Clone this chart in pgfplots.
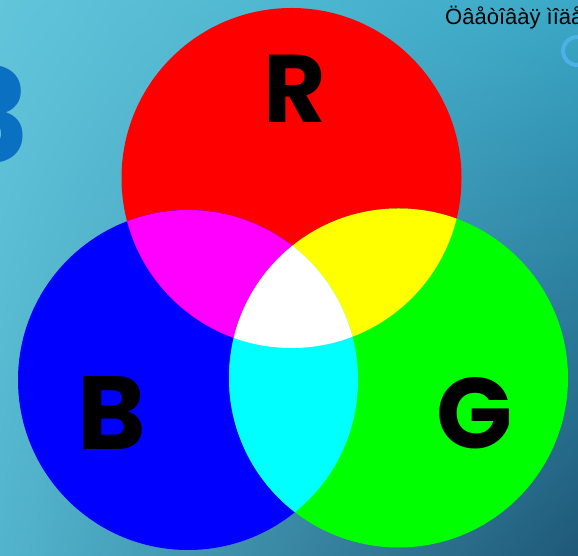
\documentclass[border=0pt]{standalone}
\usepackage{pgfplots}
\pgfplotsset{compat=1.18}
\usetikzlibrary{shadings}
\usepackage{fontspec}
\setmainfont{Liberation Sans}
\newfontfamily\letterfont{Poppins}
\definecolor{bgUL}{HTML}{62C5DA}
\definecolor{bgUR}{HTML}{3AA8C7}
\definecolor{bgLL}{HTML}{52B5CD}
\definecolor{bgLR}{HTML}{1F5878}
\definecolor{threeblue}{HTML}{0A71C2}
\definecolor{ringblue}{HTML}{4FB0E8}
\definecolor{pR}{HTML}{FF0000}
\definecolor{pG}{HTML}{00FF00}
\definecolor{pB}{HTML}{0000FF}
\definecolor{pM}{HTML}{FF00FF}
\definecolor{pY}{HTML}{FFFF00}
\definecolor{pC}{HTML}{00FFFF}
\begin{document}
\begin{tikzpicture}
\begin{axis}[
  name=ax,
  at={(0pt,0pt)}, anchor=south west,
  scale only axis, width=578pt, height=556pt,
  xmin=0, xmax=578, ymin=0, ymax=556,
  axis lines=none, clip=true,
]
% background
\path[upper left=bgUL, upper right=bgUR, lower left=bgLL, lower right=bgLR]
  (axis cs:0,0) rectangle (axis cs:578,556);
% big partial "3"
\node[anchor=east, inner sep=0pt, text=threeblue, font=\letterfont\bfseries\fontsize{130}{130}\selectfont]
  at (axis cs:30,442) {3};
% ring top right
\draw[ringblue, line width=4pt] (axis cs:577,505) circle [radius=14];
% title text
\node[anchor=base west, inner sep=0pt, font=\fontsize{22}{22}\selectfont]
  at (axis cs:445,531) {Öâåòîâàÿ ìîäåëü RGB};
% primary circles
\fill[pR] (axis cs:291.5,378) circle [radius=170];
\fill[pB] (axis cs:188,176) circle [radius=170];
\fill[pG] (axis cs:398.5,178) circle [radius=169.5];
% pairwise overlaps
\begin{scope}
  \clip (axis cs:291.5,378) circle [radius=170];
  \fill[pM] (axis cs:188,176) circle [radius=170];
\end{scope}
\begin{scope}
  \clip (axis cs:291.5,378) circle [radius=170];
  \fill[pY] (axis cs:398.5,178) circle [radius=169.5];
\end{scope}
\begin{scope}
  \clip (axis cs:188,176) circle [radius=170];
  \fill[pC] (axis cs:398.5,178) circle [radius=169.5];
\end{scope}
\begin{scope}
  \clip (axis cs:291.5,378) circle [radius=170];
  \clip (axis cs:188,176) circle [radius=170];
  \fill[white] (axis cs:398.5,178) circle [radius=169.5];
\end{scope}
% letters
\node[inner sep=0pt, font=\letterfont\bfseries\fontsize{96}{96}\selectfont] at (axis cs:295,467) {R};
\node[inner sep=0pt, font=\letterfont\bfseries\fontsize{104}{104}\selectfont] at (axis cs:112,143) {B};
\node[inner sep=0pt, font=\letterfont\bfseries\fontsize{100}{100}\selectfont] at (axis cs:475,143) {G};
\end{axis}
\pgfresetboundingbox
\path[use as bounding box] (ax.south west) rectangle (ax.north east);
\end{tikzpicture}
\end{document}
